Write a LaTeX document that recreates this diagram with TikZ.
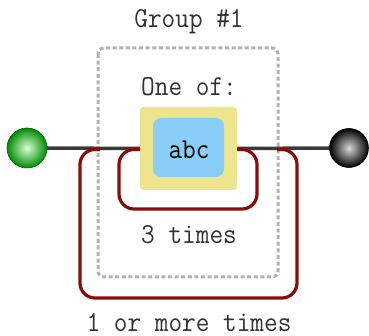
\documentclass[tikz,border=0pt]{standalone}
\usepackage{fontspec}
\newfontfamily\rrfont[FakeStretch=0.915]{Latin Modern Mono}
\definecolor{loopred}{HTML}{8B0A0A}
\definecolor{boxyellow}{HTML}{EEE48E}
\definecolor{boxblue}{HTML}{88CEF8}
\definecolor{linegray}{HTML}{3A3A3A}
\definecolor{txtgray}{HTML}{333333}
\tikzset{
  lbl/.style={font=\rrfont\fontsize{29}{32}\selectfont, text=txtgray, inner sep=0pt, anchor=center},
  mainline/.style={draw=linegray, line width=3.5pt},
  looppath/.style={draw=loopred, line width=3.2pt, rounded corners=15pt},
  groupbox/.style={draw=black!30, line width=3pt, dash pattern=on 4pt off 2.6pt, rounded corners=6pt},
}
\begin{document}
\begin{tikzpicture}[x=1pt, y=-1pt]
\useasboundingbox (0,0) rectangle (369,336);
% group box
\draw[groupbox] (98,48) rectangle (278,277);
\node[lbl] (group) at (189,22) {Group \#1};
\node[lbl] (oneof) at (189,87) {One of:};
% terminal circles
\shade[inner color=green!15, outer color=green!55!black] (27,148) circle (20);
\draw[green!40!black, line width=0.6pt] (27,148) circle (20);
\node[circle, minimum size=40pt, inner sep=0pt] (start) at (27,148) {};
\shade[inner color=black!15, outer color=black] (349,148) circle (19.5);
\draw[black, line width=0.6pt] (349,148) circle (19.5);
\node[circle, minimum size=39pt, inner sep=0pt] (end) at (349,148) {};
% literal box
\node[fill=boxyellow, rounded corners=4pt, minimum width=97pt, minimum height=83pt, inner sep=0pt] (opt) at (188.5,148.5) {};
% main line
\draw[mainline] (start.east) -- (opt.west);
\draw[mainline] (opt.east) -- (end.west);
\node[fill=boxyellow, rounded corners=4pt, minimum width=97pt, minimum height=83pt, inner sep=0pt] at (opt) {};
\node[fill=boxblue, rounded corners=8pt, minimum width=71pt, minimum height=59pt, inner sep=0pt] (lit) at (188.5,147.5) {};
\node[lbl, text=black] (abc) at (189,150) {abc};
% inner loop
\coordinate (il) at (140,149.5);
\coordinate (ir) at (237,149.5);
\draw[looppath] (il) -- (119,149.5) -- (119,209) -- (257,209) -- (257,149.5) -- (ir);
\node[lbl] (three) at (189,235) {3 times};
% outer loop
\coordinate (ol) at (100,149.5);
\coordinate (or) at (277,149.5);
\draw[looppath] (ol) -- (80,149.5) -- (80,298) -- (297,298) -- (297,149.5) -- (or);
\node[lbl] (more) at (189,323) {1 or more times};
\end{tikzpicture}
\end{document}
